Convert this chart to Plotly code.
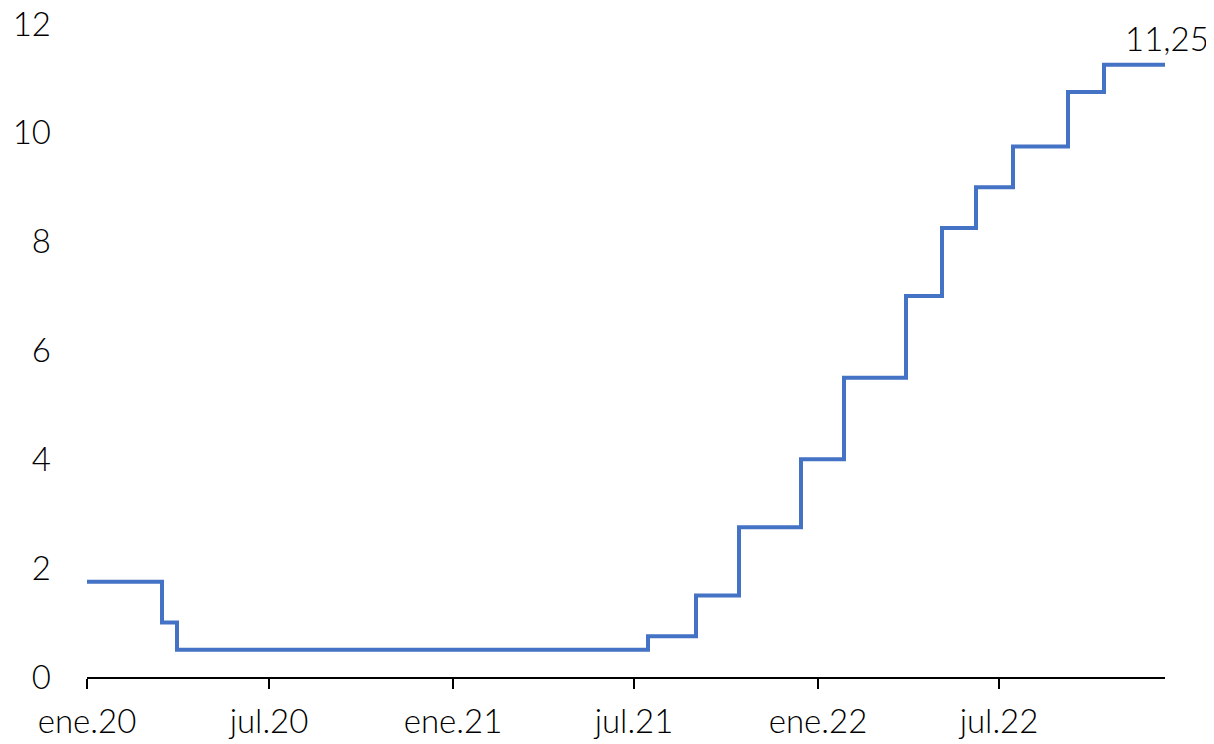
import plotly.graph_objects as go

# Tasa de política monetaria (%), fechas de cambio
dates = [
    "2020-01-01", "2020-03-16", "2020-03-31", "2021-07-15", "2021-09-01",
    "2021-10-14", "2021-12-15", "2022-01-27", "2022-03-30", "2022-05-05",
    "2022-06-08", "2022-07-15", "2022-09-08", "2022-10-14", "2022-12-14",
]
rates = [
    1.75, 1.0, 0.5, 0.75, 1.5,
    2.75, 4.0, 5.5, 7.0, 8.25,
    9.0, 9.75, 10.75, 11.25, 11.25,
]
tick_dates = ["2020-01-01", "2020-07-01", "2021-01-01", "2021-07-01", "2022-01-01", "2022-07-01"]
tick_labels = ["ene.20", "jul.20", "ene.21", "jul.21", "ene.22", "jul.22"]
y_ticks = [0, 2, 4, 6, 8, 10, 12]
last_label = "11,25"

font = {"family": "Lato, 'Open Sans', sans-serif", "size": 33, "color": "#000000", "weight": 300}

fig = go.Figure()
fig.add_trace(
    go.Scatter(
        x=dates,
        y=rates,
        mode="lines",
        line={"color": "#4472C4", "width": 4, "shape": "hv"},
        showlegend=False,
        hoverinfo="skip",
    )
)
fig.add_annotation(
    x=dates[-1],
    y=rates[-1],
    text=last_label,
    showarrow=False,
    xanchor="center",
    yanchor="bottom",
    yshift=5,
    xshift=2,
    font=font,
)
fig.update_xaxes(
    range=[dates[0], dates[-1]],
    tickvals=tick_dates,
    ticktext=tick_labels,
    showgrid=False,
    zeroline=False,
    showline=True,
    linecolor="#000000",
    linewidth=2,
    ticks="outside",
    ticklen=10,
    tickwidth=2,
    tickcolor="#000000",
    ticklabelstandoff=4,
    automargin=False,
    tickfont=font,
)
fig.update_yaxes(
    range=[0, 12],
    tickvals=y_ticks,
    showgrid=False,
    zeroline=False,
    showline=False,
    ticks="",
    ticklabelstandoff=35,
    ticklabeloverflow="allow",
    automargin=False,
    tickfont=font,
)
fig.update_layout(
    width=1214,
    height=744,
    paper_bgcolor="#ffffff",
    plot_bgcolor="#ffffff",
    margin={"l": 79, "r": 57, "t": 16, "b": 75},
)
fig.write_html("out.html")
